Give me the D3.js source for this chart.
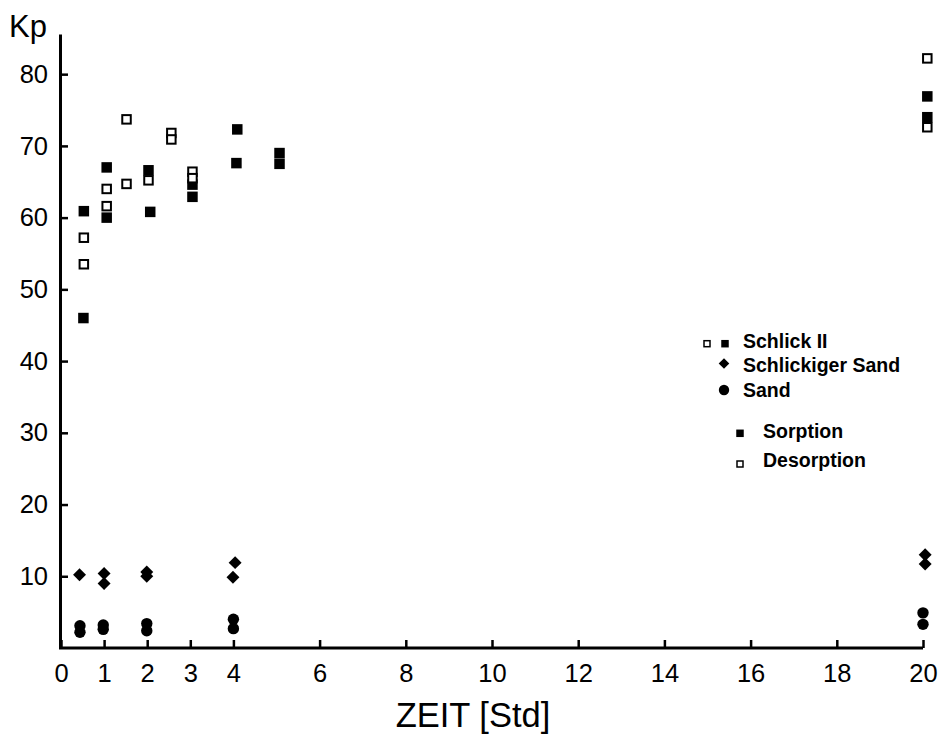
<!DOCTYPE html>
<html>
<head>
<meta charset="utf-8">
<script src="https://cdn.jsdelivr.net/npm/d3@7"></script>
<style>
  html, body { margin: 0; padding: 0; background: #fff; }
  svg { display: block; font-family: "Liberation Sans", Arial, sans-serif; }
</style>
</head>
<body>
<svg id="chart" width="940" height="737"></svg>
<script>
// Kp over time [Std]: pairs of [ZEIT, Kp]
const schlickSorption = [
  [0.53, 60.9], [0.52, 46.0], [1.06, 67.0], [1.06, 60.0], [2.03, 66.6], [2.07, 60.8],
  [3.05, 64.6], [3.05, 62.9], [4.09, 72.3], [4.07, 67.6], [5.07, 69.0], [5.07, 67.5],
  [20.1, 76.9], [20.1, 74.0]
];
const schlickDesorption = [
  [0.53, 57.2], [0.53, 53.5], [1.06, 64.0], [1.06, 61.6], [1.52, 73.7], [1.52, 64.7],
  [2.03, 65.2], [2.56, 71.8], [2.56, 70.9], [3.05, 66.4], [3.05, 65.5],
  [20.1, 82.2], [20.1, 72.6]
];
const schlickigerSand = [
  [0.43, 10.2], [1.0, 10.4], [1.0, 9.0], [1.99, 10.6], [1.99, 10.0],
  [4.04, 11.9], [3.99, 9.85], [20.05, 13.0], [20.05, 11.7]
];
const sand = [
  [0.44, 3.1], [0.44, 2.2], [0.98, 3.2], [0.98, 2.6], [1.99, 3.4], [1.99, 2.4],
  [4.0, 4.0], [4.0, 2.7], [20.0, 4.9], [20.0, 3.3]
];

const xTicks = [0, 1, 2, 3, 4, 6, 8, 10, 12, 14, 16, 18, 20];
const yTicks = [10, 20, 30, 40, 50, 60, 70, 80];

const yTitle = "Kp";
const xTitle = "ZEIT [Std]";

const legendMaterials = ["Schlick II", "Schlickiger Sand", "Sand"];
const legendModes = ["Sorption", "Desorption"];

const svg = d3.select("#chart");

const x = d3.scaleLinear().domain([0, 20]).range([61, 923]);
const y = d3.scaleLinear().domain([0, 85.6]).range([648, 34]);

// diamond as a square rotated by 45°, equally wide and tall
const diamond = {
  draw(ctx, size) {
    const h = Math.sqrt(size / 2);
    ctx.moveTo(0, -h); ctx.lineTo(h, 0); ctx.lineTo(0, h); ctx.lineTo(-h, 0); ctx.closePath();
  }
};

// axes (ticks point inward)
const xAxis = d3.axisBottom(x).tickValues(xTicks).tickFormat(d3.format("d"))
  .tickSizeInner(-8).tickSizeOuter(0).tickPadding(16);
const yAxis = d3.axisLeft(y).tickValues(yTicks).tickFormat(d3.format("d"))
  .tickSizeInner(-8).tickSizeOuter(0).tickPadding(12);

const gx = svg.append("g").attr("transform", "translate(0,648)").call(xAxis);
const gy = svg.append("g").attr("transform", "translate(60,0)").call(yAxis);

[gx, gy].forEach(g => {
  g.select(".domain").attr("stroke", "#000").attr("stroke-width", 3);
  g.selectAll(".tick line").attr("stroke", "#000").attr("stroke-width", 2.5);
  g.selectAll(".tick text").attr("fill", "#000").attr("font-size", 25.5)
    .attr("font-family", "Liberation Sans, Arial, sans-serif");
});
gx.select(".domain").attr("d", "M59,0H923");

svg.append("text").attr("x", 9).attr("y", 37)
  .attr("font-size", 31).attr("fill", "#000").text(yTitle);
svg.append("text").attr("x", 473).attr("y", 727).attr("text-anchor", "middle")
  .attr("font-size", 34.5).attr("fill", "#000").text(xTitle);

// data marks
const marks = svg.append("g");

marks.selectAll("circle.sand").data(sand).join("circle")
  .attr("cx", d => x(d[0])).attr("cy", d => y(d[1])).attr("r", 5.7).attr("fill", "#000");

marks.selectAll("path.ss").data(schlickigerSand).join("path")
  .attr("transform", d => `translate(${x(d[0])},${y(d[1])})`)
  .attr("d", d3.symbol(diamond, 84)).attr("fill", "#000");

const sq = 10.5;
marks.selectAll("rect.sorp").data(schlickSorption).join("rect")
  .attr("x", d => x(d[0]) - sq / 2).attr("y", d => y(d[1]) - sq / 2)
  .attr("width", sq).attr("height", sq).attr("fill", "#000");

marks.selectAll("rect.desorp").data(schlickDesorption).join("rect")
  .attr("x", d => x(d[0]) - (sq - 2) / 2).attr("y", d => y(d[1]) - (sq - 2) / 2)
  .attr("width", sq - 2).attr("height", sq - 2)
  .attr("fill", "#fff").attr("stroke", "#000").attr("stroke-width", 2);

// legend
const lg = svg.append("g").attr("font-weight", "bold").attr("font-size", 19.5).attr("fill", "#000");
const ls = 7.5;
lg.append("rect").attr("x", 707 - ls / 2 + 0.75).attr("y", 343.7 - ls / 2 + 0.75)
  .attr("width", ls - 1.5).attr("height", ls - 1.5)
  .attr("fill", "#fff").attr("stroke", "#000").attr("stroke-width", 1.5);
lg.append("rect").attr("x", 725 - ls / 2).attr("y", 343.7 - ls / 2)
  .attr("width", ls).attr("height", ls).attr("fill", "#000");
lg.append("path").attr("transform", "translate(724,363.5)")
  .attr("d", d3.symbol(diamond, 56)).attr("fill", "#000");
lg.append("circle").attr("cx", 724).attr("cy", 390).attr("r", 5.2).attr("fill", "#000");

lg.selectAll("text.mat").data(legendMaterials).join("text")
  .attr("x", 743).attr("y", (d, i) => [348, 372, 397][i]).text(d => d);

lg.append("rect").attr("x", 740 - ls / 2).attr("y", 433.3 - ls / 2)
  .attr("width", ls).attr("height", ls).attr("fill", "#000");
lg.append("rect").attr("x", 740 - ls / 2 + 0.75).attr("y", 464 - ls / 2 + 0.75)
  .attr("width", ls - 1.5).attr("height", ls - 1.5)
  .attr("fill", "#fff").attr("stroke", "#000").attr("stroke-width", 1.5);

lg.selectAll("text.mode").data(legendModes).join("text")
  .attr("x", 763).attr("y", (d, i) => [438, 467][i]).text(d => d);
</script>
</body>
</html>
